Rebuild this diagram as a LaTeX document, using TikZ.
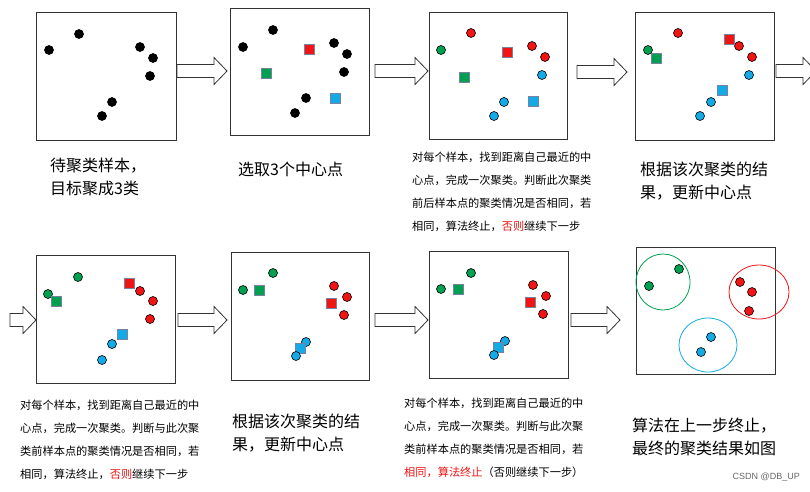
\documentclass[tikz,border=0pt]{standalone}
\usepackage{fontspec}
\setmainfont{Noto Sans CJK SC}
\newfontfamily\wm{Liberation Sans}
\begin{document}
\begin{tikzpicture}[x=1pt,y=-1pt,
  panel/.style={draw=black!80,line width=1pt},
  dt/.style={circle,draw=black,line width=0.6pt,minimum size=9pt,inner sep=0pt},
  sq/.style={rectangle,draw=sqedge,line width=0.6pt,minimum size=10pt,inner sep=0pt},
  big/.style={anchor=north west,align=left,font=\fontsize{16}{23}\selectfont,inner sep=0pt},
  small/.style={anchor=north west,align=left,font=\fontsize{11.2}{23}\selectfont,inner sep=0pt},
  arr/.style={draw=black!80,fill=white,line width=0.8pt}]
\useasboundingbox (0,0) rectangle (810,491);
\definecolor{cg}{RGB}{0,160,80}
\definecolor{cr}{RGB}{240,20,20}
\definecolor{cb}{RGB}{20,170,230}
\definecolor{sqedge}{RGB}{120,130,160}
\newcommand{\bigarrow}[3]{% x1 x2 ymid
  \draw[arr] (#1,#3-6.5) -- (#2-13,#3-6.5) -- (#2-13,#3-13.5) -- (#2,#3) -- (#2-13,#3+13.5) -- (#2-13,#3+6.5) -- (#1,#3+6.5) -- cycle;}
% panels
\draw[panel] (36,12) rectangle (176,140);
\draw[panel] (230,8) rectangle (369,135);
\draw[panel] (429,12) rectangle (567,139);
\draw[panel] (635,12) rectangle (774,140);
\draw[panel] (36,255) rectangle (175,383);
\draw[panel] (231,252) rectangle (369,380);
\draw[panel] (429,251) rectangle (568,378);
\draw[panel] (636,247) rectangle (775,374);
% arrows
\bigarrow{177}{227}{71}
\bigarrow{375}{428}{71}
\bigarrow{577}{627}{72}
\bigarrow{776}{816}{71}
\bigarrow{10}{36}{320}
\bigarrow{178}{227}{320}
\bigarrow{375}{428}{320}
\bigarrow{571}{620}{320}
% P1
\foreach \p [count=\i] in {(49,50),(79,34),(140,47),(153,58),(150,76),(112,102),(102,116)}
  \node[dt,fill=black] (a\i) at \p {};
% P2
\foreach \p [count=\i] in {(243,47),(273,30),(334,43),(347,54),(344,72),(306,98),(295,113)}
  \node[dt,fill=black] (b\i) at \p {};
\node[sq,fill=cr] (bsr) at (309,49) {};
\node[sq,fill=cg] (bsg) at (266,73) {};
\node[sq,fill=cb] (bsb) at (335,98) {};
% P3
\node[dt,fill=cg] (c1) at (441,50) {};
\foreach \p [count=\i] in {(471,33),(532,46),(545,57)} \node[dt,fill=cr] (cr\i) at \p {};
\foreach \p [count=\i] in {(542,75),(504,102),(494,116)} \node[dt,fill=cb] (cb\i) at \p {};
\node[sq,fill=cr] (csr) at (507,52) {};
\node[sq,fill=cg] (csg) at (464,77) {};
\node[sq,fill=cb] (csb) at (533,101) {};
% P4
\node[dt,fill=cg] (d1) at (648,50) {};
\foreach \p [count=\i] in {(678,33),(739,46),(752,57)} \node[dt,fill=cr] (dr\i) at \p {};
\foreach \p [count=\i] in {(749,75),(711,102),(700,116)} \node[dt,fill=cb] (db\i) at \p {};
\node[sq,fill=cr] (dsr) at (729,39) {};
\node[sq,fill=cg] (dsg) at (656,58) {};
\node[sq,fill=cb] (dsb) at (722,90) {};
% P5
\foreach \p [count=\i] in {(78,277),(48,294)} \node[dt,fill=cg] (eg\i) at \p {};
\foreach \p [count=\i] in {(140,291),(153,301),(150,319)} \node[dt,fill=cr] (er\i) at \p {};
\foreach \p [count=\i] in {(112,344),(102,360)} \node[dt,fill=cb] (eb\i) at \p {};
\node[sq,fill=cg] (esg) at (56,301) {};
\node[sq,fill=cr] (esr) at (129,283) {};
\node[sq,fill=cb] (esb) at (122,334) {};
% P6
\foreach \p [count=\i] in {(243,290),(273,273)} \node[dt,fill=cg] (fg\i) at \p {};
\foreach \p [count=\i] in {(334,286),(347,297),(344,315)} \node[dt,fill=cr] (fr\i) at \p {};
\node[dt,fill=cb] (fb1) at (306,342) {};
\node[sq,fill=cg] (fsg) at (259,290) {};
\node[sq,fill=cr] (fsr) at (331,303) {};
\node[sq,fill=cb] (fsb) at (300,348) {};
\node[dt,fill=cb] (fb2) at (296,356) {};
% P7
\foreach \p [count=\i] in {(441,289),(471,273)} \node[dt,fill=cg] (gg\i) at \p {};
\foreach \p [count=\i] in {(533,285),(546,296),(543,314)} \node[dt,fill=cr] (gr\i) at \p {};
\node[dt,fill=cb] (gb1) at (505,341) {};
\node[sq,fill=cg] (gsg) at (458,289) {};
\node[sq,fill=cr] (gsr) at (530,302) {};
\node[sq,fill=cb] (gsb) at (498,347) {};
\node[dt,fill=cb] (gb2) at (494,355) {};
% P8
\draw[cg,line width=0.8pt] (663,282) ellipse (27 and 28);
\draw[cr,line width=0.8pt] (759,292) ellipse (30 and 27);
\draw[cb,line width=0.8pt] (708,345) ellipse (29 and 27);
\foreach \p [count=\i] in {(649,286),(679,269)} \node[dt,fill=cg] (hg\i) at \p {};
\foreach \p [count=\i] in {(740,282),(752,292),(749,311)} \node[dt,fill=cr] (hr\i) at \p {};
\foreach \p [count=\i] in {(711,337),(701,352)} \node[dt,fill=cb] (hb\i) at \p {};
% texts
\node[big] (t1) at (50,158) {待聚类样本，\\目标聚成3类};
\node[big] (t2) at (238,162) {选取3个中心点};
\node[small] (t3) at (412,152) {对每个样本，找到距离自己最近的中\\心点，完成一次聚类。判断此次聚类\\前后样本点的聚类情况是否相同，若\\相同，算法终止，\textcolor{cr}{否则}继续下一步};
\node[big] (t4) at (640,162) {根据该次聚类的结\\果，更新中心点};
\node[small] (t5) at (20,400) {对每个样本，找到距离自己最近的中\\心点，完成一次聚类。判断与此次聚\\类前样本点的聚类情况是否相同，若\\相同，算法终止，\textcolor{cr}{否则}继续下一步};
\node[big] (t6) at (232,414) {根据该次聚类的结\\果，更新中心点};
\node[small] (t7) at (404,398) {对每个样本，找到距离自己最近的中\\心点，完成一次聚类。判断与此次聚\\类前样本点的聚类情况是否相同，若\\\textcolor{cr}{相同，算法终止}（否则继续下一步）};
\node[big] (t8) at (632,418) {算法在上一步终止，\\最终的聚类结果如图};
\node[anchor=east,inner sep=0pt,font=\wm\fontsize{9}{10}\selectfont,text=black!60] (wm) at (800,477) {CSDN @DB\_UP};
\end{tikzpicture}
\end{document}
